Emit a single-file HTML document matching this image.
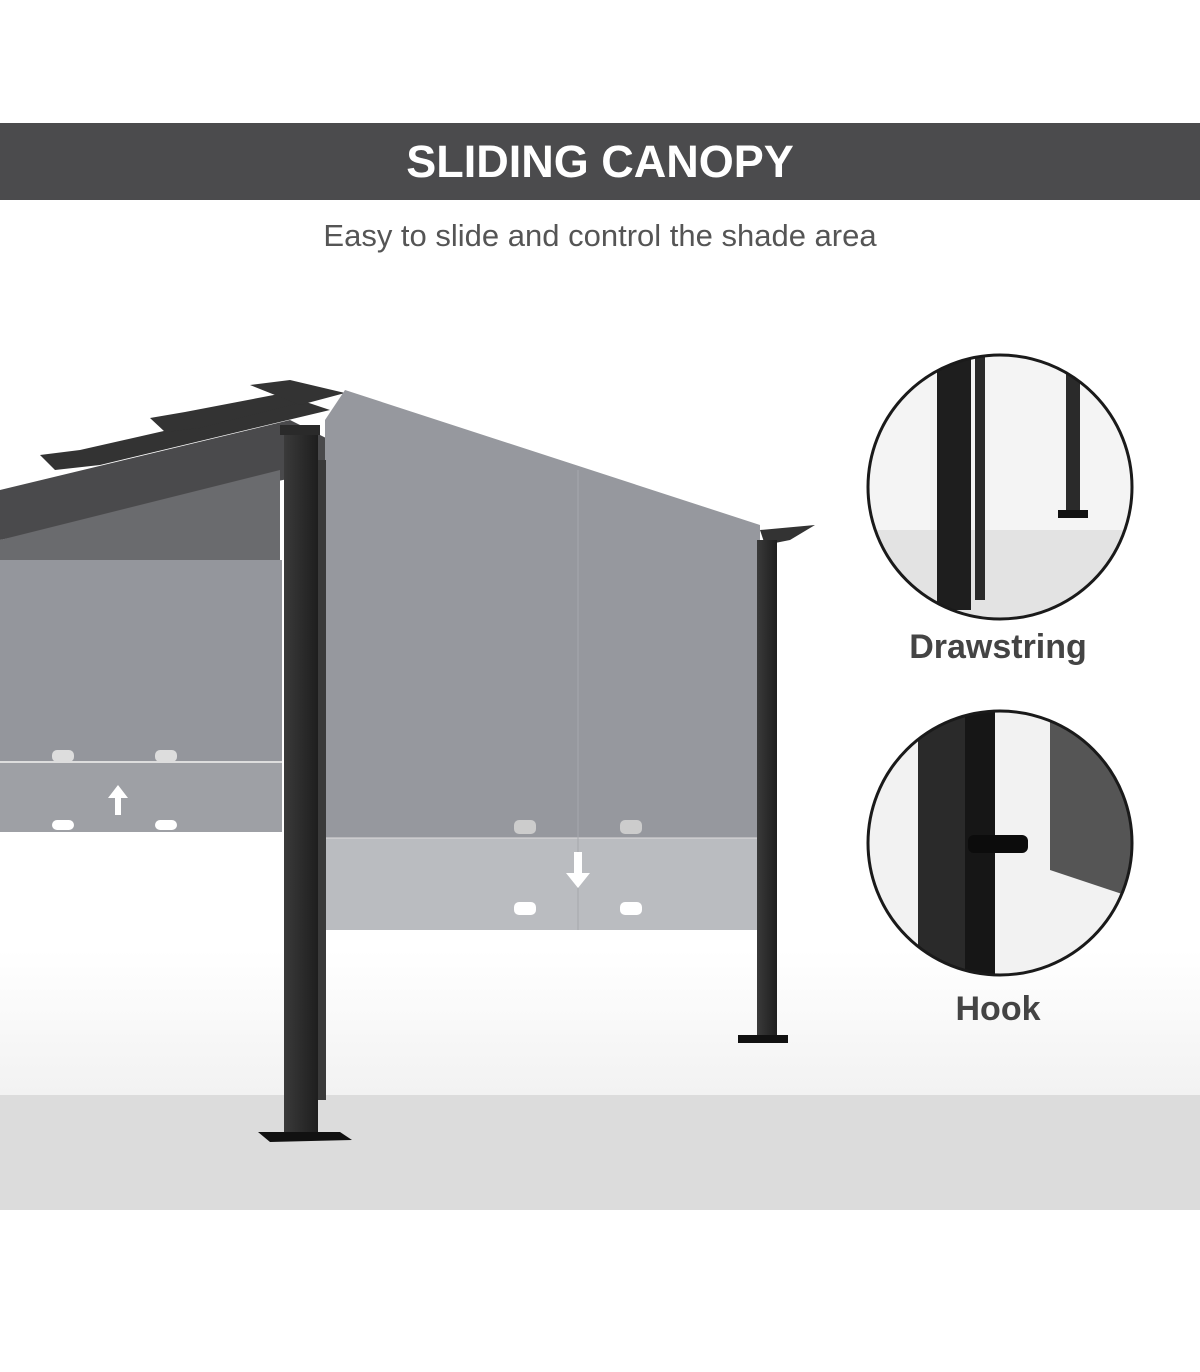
<!DOCTYPE html>
<html><head><meta charset="utf-8"><style>
html,body{margin:0;padding:0;background:#fff;width:1200px;height:1372px;overflow:hidden;font-family:"Liberation Sans",sans-serif}
.bar{position:absolute;left:0;top:123px;width:1200px;height:77px;background:#4b4b4d;color:#fff;text-align:center;font-weight:bold;font-size:45px;line-height:77px;letter-spacing:0px}
.sub{position:absolute;left:0;top:218px;width:1200px;text-align:center;color:#555;font-size:31px}
.lbl{position:absolute;width:300px;left:848px;text-align:center;color:#444;font-weight:bold;font-size:34px}
</style></head><body>
<svg width="1200" height="1372" style="position:absolute;left:0;top:0">
<defs>
<linearGradient id="fl" x1="0" y1="0" x2="0" y2="1"><stop offset="0" stop-color="#fff"/><stop offset="1" stop-color="#f2f2f2"/></linearGradient>
<linearGradient id="pg" x1="0" y1="0" x2="1" y2="0"><stop offset="0" stop-color="#3a3a3a"/><stop offset="1" stop-color="#1e1e1e"/></linearGradient>
<clipPath id="c1"><circle cx="1000" cy="487" r="132"/></clipPath>
<clipPath id="c2"><circle cx="1000" cy="843" r="132"/></clipPath>
</defs>
<rect x="0" y="950" width="1200" height="145" fill="url(#fl)"/>
<rect x="0" y="1095" width="1200" height="115" fill="#dcdcdc"/>
<!-- roof -->
<polygon points="0,490 290,420 330,440 330,470 0,540" fill="#4a4a4c"/>
<polygon points="0,540 280,470 280,600 0,560" fill="#6a6b6e"/>
<polygon points="40,455 80,450 300,400 330,410 100,465 55,470" fill="#333"/>
<polygon points="150,418 185,412 300,390 320,398 200,428 165,432" fill="#333"/>
<polygon points="250,385 290,380 345,393 300,405" fill="#333"/>
<polygon points="760,530 815,525 790,540 765,545" fill="#333"/>
<!-- left canopy -->
<rect x="0" y="560" width="282" height="272" fill="#94969c"/>
<rect x="0" y="762" width="282" height="70" fill="#9ea0a5"/>
<line x1="0" y1="762" x2="282" y2="762" stroke="#ddd" stroke-width="2"/>
<rect x="52" y="750" width="22" height="12" rx="5" fill="#ddd"/><rect x="155" y="750" width="22" height="12" rx="5" fill="#ddd"/>
<rect x="52" y="820" width="22" height="10" rx="5" fill="#fff"/><rect x="155" y="820" width="22" height="10" rx="5" fill="#fff"/>
<polygon points="118,785 108,798 115,798 115,815 121,815 121,798 128,798" fill="#fff"/>
<!-- main canopy -->
<polygon points="325,420 345,390 760,525 760,930 325,930" fill="#96989e"/>
<rect x="325" y="838" width="435" height="92" fill="#babcc0"/>
<line x1="325" y1="838" x2="760" y2="838" stroke="#ddd" stroke-width="1"/>
<line x1="578" y1="470" x2="578" y2="930" stroke="#a6a8ad" stroke-width="1"/>
<rect x="514" y="820" width="22" height="14" rx="5" fill="#ccc"/><rect x="620" y="820" width="22" height="14" rx="5" fill="#ccc"/>
<rect x="514" y="902" width="22" height="13" rx="5" fill="#fff"/><rect x="620" y="902" width="22" height="13" rx="5" fill="#fff"/>
<polygon points="578,888 566,873 574,873 574,852 582,852 582,873 590,873" fill="#fff"/>
<!-- posts -->
<rect x="280" y="425" width="40" height="10" fill="#2a2a2a"/>
<rect x="284" y="435" width="34" height="700" fill="url(#pg)"/>
<rect x="318" y="460" width="8" height="640" fill="#3a3a3a"/>
<polygon points="258,1132 340,1132 352,1140 270,1142" fill="#111"/>
<rect x="757" y="540" width="20" height="500" fill="url(#pg)"/>
<rect x="738" y="1035" width="50" height="8" fill="#111"/>
</svg>
<svg width="1200" height="1372" style="position:absolute;left:0;top:0">
<g clip-path="url(#c1)">
<rect x="860" y="350" width="280" height="280" fill="#f4f4f4"/>
<rect x="860" y="530" width="280" height="100" fill="#e3e3e3"/>
<rect x="937" y="350" width="34" height="260" fill="#1e1e1e"/>
<rect x="975" y="350" width="10" height="250" fill="#2a2a2a"/>
<rect x="1066" y="350" width="14" height="160" fill="#2a2a2a"/>
<rect x="1058" y="510" width="30" height="8" fill="#111"/>
</g>
<circle cx="1000" cy="487" r="132" fill="none" stroke="#1a1a1a" stroke-width="3"/>
<g clip-path="url(#c2)">
<rect x="860" y="705" width="280" height="280" fill="#f2f2f2"/>
<rect x="918" y="705" width="62" height="280" fill="#2a2a2a"/>
<rect x="965" y="705" width="30" height="280" fill="#161616"/>
<polygon points="1050,700 1140,700 1140,900 1050,870" fill="#555"/>
<rect x="968" y="835" width="60" height="18" rx="6" fill="#0c0c0c"/>
</g>
<circle cx="1000" cy="843" r="132" fill="none" stroke="#1a1a1a" stroke-width="3"/>
</svg>
<div class="bar">SLIDING CANOPY</div>
<div class="sub">Easy to slide and control the shade area</div>
<div class="lbl" style="top:628px">Drawstring</div>
<div class="lbl" style="top:990px">Hook</div>
</body></html>
